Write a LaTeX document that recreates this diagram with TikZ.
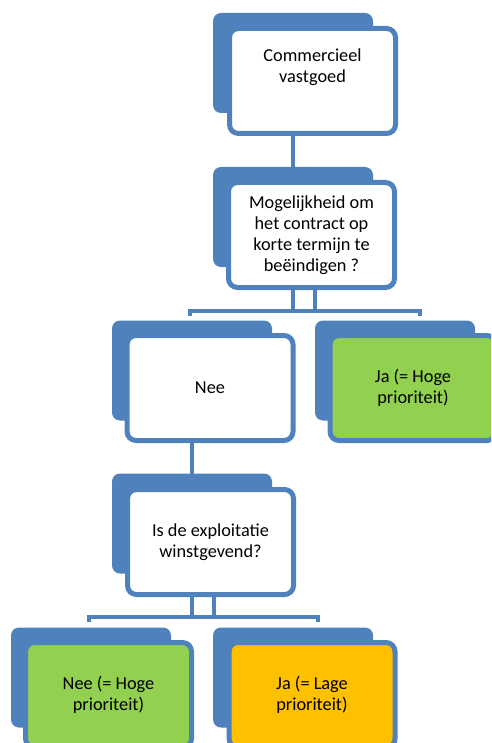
\documentclass[tikz,border=0pt]{standalone}
\usepackage{fontspec}
\setmainfont{Carlito}
\usetikzlibrary{backgrounds}
\definecolor{sablue}{HTML}{4F81BD}
\definecolor{sagreen}{HTML}{92D050}
\definecolor{saorange}{HTML}{FFC000}
\begin{document}
\begin{tikzpicture}[x=1pt,y=-1pt,
  backbox/.style={fill=sablue, rounded corners=8pt, minimum width=160pt, minimum height=100pt, inner sep=0pt},
  frontbox/.style={draw=sablue, line width=5pt, fill=white, rounded corners=9pt, minimum width=166pt, minimum height=105pt, inner sep=0pt, align=center, font=\fontsize{18.3}{21}\selectfont},
  txt/.style={align=center, inner sep=0pt, font=\fontsize{18.3}{21}\selectfont},
  conn/.style={draw=sablue, line width=4.5pt}]
\useasboundingbox (0,0) rectangle (491,743);
\clip (0,0) rectangle (491,743);
% level 1
\node[backbox] (b1) at (293,63) {};
\node[frontbox] (f1) at (312.5,81) {};
\node[txt] (t1) at ([yshift=14pt]f1.center) {Commercieel\\vastgoed};
% level 2
\node[backbox] (b2) at (293,217) {};
\node[frontbox] (f2) at (311.5,235) {Mogelijkheid om\\het contract op\\korte termijn te\\beëindigen ?};
% level 3
\node[backbox] (b3) at (192,370.5) {};
\node[frontbox] (f3) at (210,388) {Nee};
\node[backbox] (b4) at (395,370.5) {};
\node[frontbox, fill=sagreen] (f4) at (413,388) {Ja (= Hoge\\prioriteit)};
% level 4
\node[backbox] (b5) at (192,523.5) {};
\node[frontbox] (f5) at (210.5,542) {Is de exploitatie\\winstgevend?};
% level 5
\node[backbox] (b6) at (91,677.5) {};
\node[frontbox, fill=sagreen] (f6) at (108.5,695) {Nee (= Hoge\\prioriteit)};
\node[backbox] (b7) at (293,677.5) {};
\node[frontbox, fill=saorange] (f7) at (312,695) {Ja (= Lage\\prioriteit)};
% connector points
\coordinate (h2l) at (190,311);
\coordinate (h2r) at (420,311);
\coordinate (v2b) at (315,311);
\coordinate (h4l) at (89,617);
\coordinate (h4r) at (318,617);
\coordinate (v4b) at (214,617);
\begin{scope}[on background layer]
  \draw[conn] (b1.center) -- (b2.center);
  \draw[conn] (b2.center) -- (b2.center |- h2l);
  \draw[conn] (f2.center -| v2b) -- (v2b);
  \draw[conn] ([yshift=-5pt]h2l) -- (h2l) -- (h2r) -- ([yshift=-5pt]h2r);
  \draw[conn] (b3.center) -- (b5.center);
  \draw[conn] (b5.center) -- (b5.center |- h4l);
  \draw[conn] (f5.center -| v4b) -- (v4b);
  \draw[conn] ([yshift=-5pt]h4l) -- (h4l) -- (h4r) -- ([yshift=-5pt]h4r);
\end{scope}
\end{tikzpicture}
\end{document}
